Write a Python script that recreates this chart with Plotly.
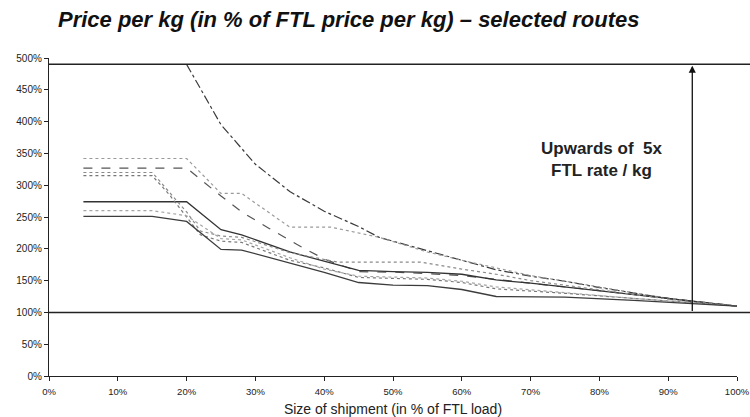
import plotly.graph_objects as go

# Shipment size (% of FTL load) and price per kg (% of FTL price per kg) per route
route_a_x = [20, 25, 30, 35, 40, 45, 48, 55, 60, 65, 70, 75, 80, 85, 90, 95, 100]
route_a_y = [490, 395, 333, 290, 259, 235, 218, 197, 181, 167, 157, 149, 139, 130, 122, 115, 110]

route_b_x = [5, 10, 15, 20, 25, 28, 35, 41, 48, 55, 60, 70, 80, 90, 100]
route_b_y = [342, 342, 342, 342, 287, 287, 234, 234, 218, 195, 182, 158, 140, 122, 110]

route_c_x = [5, 10, 15, 20, 25, 28, 32, 36, 40, 45, 51, 60, 65, 70, 80, 90, 100]
route_c_y = [327, 327, 327, 327, 283, 258, 232, 207, 184, 164, 163, 158, 152, 146, 134, 121, 110]

route_d_x = [5, 10, 15, 20, 25, 28, 35, 40, 45, 50, 55, 60, 65, 70, 80, 90, 100]
route_d_y = [274, 274, 274, 274, 230, 222, 195, 180, 166, 164, 163, 160, 151, 146, 134, 121, 110]

route_e_x = [5, 10, 15, 17, 20, 22, 25, 28, 35, 42, 54, 60, 65, 70, 80, 90, 100]
route_e_y = [320, 320, 320, 295, 258, 228, 220, 218, 194, 179, 179, 168, 160, 150, 135, 121, 110]

route_f_x = [5, 10, 15, 17.5, 20, 22, 25, 28, 35, 40, 45, 55, 60, 65, 75, 85, 100]
route_f_y = [315, 315, 315, 285, 250, 222, 212, 210, 182, 170, 155, 152, 147, 137, 130, 122, 110]

route_g_x = [5, 10, 15, 20, 25, 28, 35, 40, 45, 55, 60, 65, 75, 85, 100]
route_g_y = [260, 260, 260, 252, 216, 214, 186, 168, 157, 154, 149, 140, 131, 122, 110]

route_h_x = [5, 10, 15, 20, 25, 28, 35, 40, 45, 50, 55, 60, 65, 75, 85, 100]
route_h_y = [251, 251, 251, 243, 199, 198, 178, 163, 147, 143, 142, 136, 125, 124, 119, 110]

routes = [
    (route_a_x, route_a_y, "#3a3a3a", "dashdot", 1.2),
    (route_b_x, route_b_y, "#9a9a9a", "dot", 1.2),
    (route_c_x, route_c_y, "#555555", "dash", 1.2),
    (route_d_x, route_d_y, "#333333", "solid", 1.3),
    (route_e_x, route_e_y, "#8a8a8a", "dot", 1.2),
    (route_f_x, route_f_y, "#777777", "dot", 1.2),
    (route_g_x, route_g_y, "#a5a5a5", "dot", 1.2),
    (route_h_x, route_h_y, "#3c3c3c", "solid", 1.3),
]

x_ticks = [0, 10, 20, 30, 40, 50, 60, 70, 80, 90, 100]
y_ticks = [0, 50, 100, 150, 200, 250, 300, 350, 400, 450, 500]

ftl_level = 100
cap_level = 490
arrow_x = 93.5

fig = go.Figure()
for xs, ys, color, dash, width in routes:
    fig.add_trace(go.Scatter(
        x=xs, y=ys, mode="lines",
        line=dict(color=color, dash=dash, width=width),
        showlegend=False, hoverinfo="skip",
    ))

# reference levels: FTL price and the upper bound
for level in (ftl_level, cap_level):
    fig.add_shape(type="line", xref="paper", yref="y",
                  x0=0, x1=1.02, y0=level, y1=level,
                  line=dict(color="#222222", width=1.5))

fig.add_annotation(x=arrow_x, y=cap_level - 2, ax=arrow_x, ay=ftl_level,
                   xref="x", yref="y", axref="x", ayref="y",
                   showarrow=True, arrowhead=2, arrowsize=1.1, arrowwidth=1.3,
                   arrowcolor="#111111", text="")

fig.add_annotation(x=80.3, y=341, xref="x", yref="y", showarrow=False,
                   text="<b>Upwards of  5x<br>FTL rate / kg</b>",
                   font=dict(family="Arial, Liberation Sans", size=17, color="#222222"),
                   align="center")

fig.update_layout(
    width=750, height=417,
    margin=dict(l=49, r=13, t=58, b=41),
    paper_bgcolor="white", plot_bgcolor="white",
    title=dict(
        text="<b><i>Price per kg (in % of FTL price per kg) – selected routes</i></b>",
        font=dict(family="Arial, Liberation Sans", size=22, color="#111111"),
        xref="container", yref="container", x=58 / 750, xanchor="left",
        y=1 - 19 / 417, yanchor="middle",
    ),
    font=dict(family="Arial, Liberation Sans", color="#222222"),
)

fig.update_xaxes(
    range=[0, 100], tickvals=x_ticks, ticktext=[f"{v}%" for v in x_ticks],
    showgrid=False, zeroline=False, showline=True, linecolor="#222222", linewidth=1.3,
    ticks="outside", ticklen=4, tickcolor="#222222", tickfont=dict(size=9.5),
    ticklabeloverflow="allow", ticklabelstandoff=2, automargin=False,
    title=dict(text="Size of shipment (in % of FTL load)",
               font=dict(size=14, color="#222222"), standoff=8),
)
fig.update_yaxes(
    range=[0, 500], tickvals=y_ticks, ticktext=[f"{v}%" for v in y_ticks],
    showgrid=False, zeroline=False, showline=True, linecolor="#222222", linewidth=1.3,
    ticks="outside", ticklen=4, tickcolor="#222222", tickfont=dict(size=10),
    automargin=False,
)

fig.write_html("out.html")
